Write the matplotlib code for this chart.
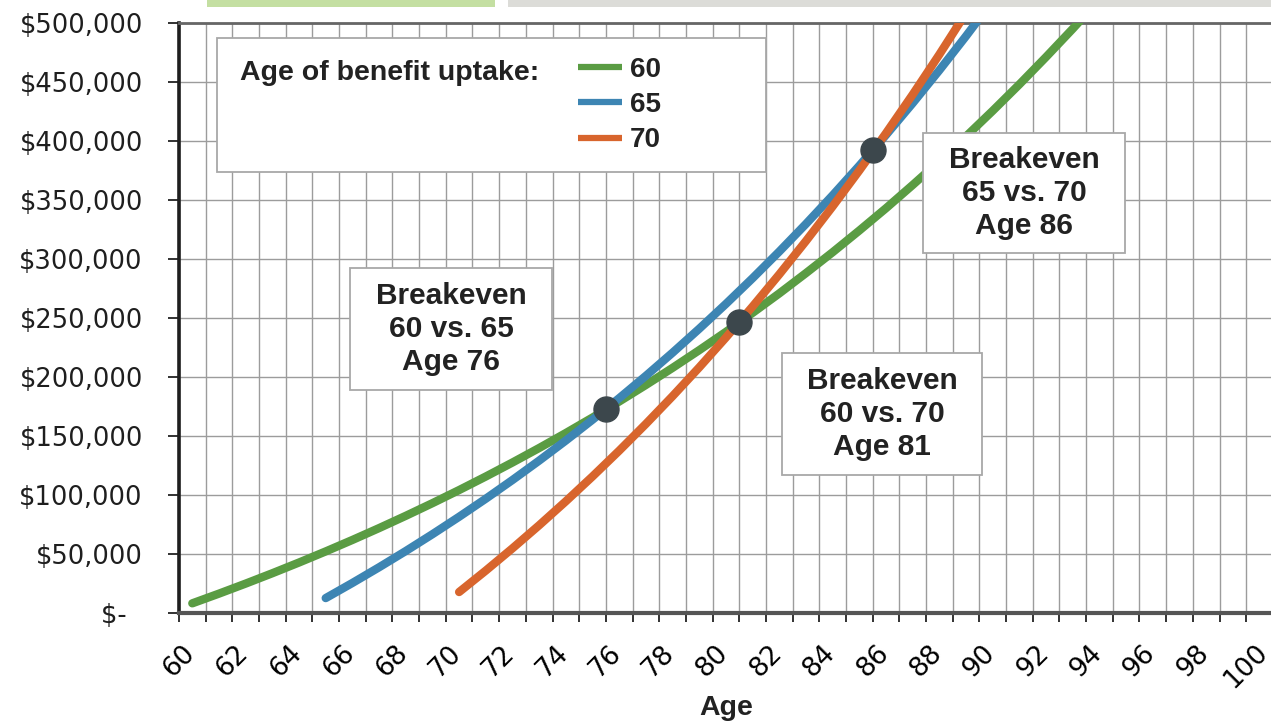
import matplotlib.pyplot as plt
import numpy as np
from matplotlib.lines import Line2D
from matplotlib.patches import Rectangle
from matplotlib.ticker import FuncFormatter, MultipleLocator

# Cumulative benefits received, by age, for each uptake age
ages_60 = np.arange(60, 95)
cum_60 = [7950, 16170, 24670, 33450, 42540, 51940, 61650, 71700, 82090, 92830,
          103940, 115420, 127300, 139570, 152270, 165400, 178970, 193000, 207500, 222500,
          238000, 254100, 270600, 287800, 305500, 323900, 342800, 362500, 382700, 403700,
          425400, 447800, 471000, 494900, 519700]

ages_65 = np.arange(65, 91)
cum_65 = [12380, 25210, 38490, 52250, 66520, 81300, 96610, 112470, 128900, 145920,
          163550, 181820, 200740, 220350, 240670, 261710, 283510, 306100, 329500, 353740,
          378860, 404880, 431830, 459760, 488690, 518670]

ages_70 = np.arange(70, 90)
cum_70 = [17520, 35700, 54560, 74120, 94420, 115490, 137330, 160000, 183520, 207920,
          233240, 259510, 286760, 315030, 344370, 374800, 406380, 439140, 473120, 508380]

breakeven_ages = [76, 81, 86]
breakeven_values = [173000, 246000, 392000]
breakeven_labels = ["Breakeven\n60 vs. 65\nAge 76",
                    "Breakeven\n60 vs. 70\nAge 81",
                    "Breakeven\n65 vs. 70\nAge 86"]

uptake_labels = ["60", "65", "70"]
colors = ["#5a9c43", "#3d85b3", "#d8652d"]

fig = plt.figure(figsize=(12.71, 7.21), dpi=100)
ax = fig.add_axes([0.1408, 0.1502, 0.8607, 0.8183])

# page header bars
fig.add_artist(Rectangle((207 / 1271, 714 / 721), 288 / 1271, 7 / 721,
                         transform=fig.transFigure, color="#c4dfa2", lw=0))
fig.add_artist(Rectangle((508 / 1271, 714 / 721), 763 / 1271, 7 / 721,
                         transform=fig.transFigure, color="#dcdcd8", lw=0))

# values sit at mid-year
for ages, vals, c in zip([ages_60, ages_65, ages_70], [cum_60, cum_65, cum_70], colors):
    ax.plot(ages + 0.5, vals, color=c, lw=6, solid_capstyle="round", zorder=3)

ax.plot(breakeven_ages, breakeven_values, "o", ms=18, color="#3c474c", zorder=4, ls="none")

ax.set_xlim(60, 101)
ax.set_ylim(0, 500000)

ax.xaxis.set_major_locator(MultipleLocator(2))
ax.xaxis.set_minor_locator(MultipleLocator(1))
ax.yaxis.set_major_locator(MultipleLocator(50000))
ax.yaxis.set_major_formatter(FuncFormatter(lambda v, p: "$-\u2007" if v == 0 else f"${v:,.0f}"))

ax.set_axisbelow(True)
ax.grid(which="both", axis="x", color="#9c9c9c", lw=1.0)
ax.grid(which="major", axis="y", color="#9c9c9c", lw=1.0)

ax.tick_params(axis="x", which="both", length=6.5, width=1.3, color="#222222", direction="out")
ax.tick_params(axis="x", which="major", labelsize=19, labelrotation=45, pad=13)
ax.tick_params(axis="y", length=8, width=1.3, color="#222222", labelsize=18.5, pad=18,
               labelcolor="#1e1e1e")
for lab in ax.get_xticklabels() + ax.get_yticklabels():
    lab.set_family("DejaVu Sans")

ax.spines["left"].set_color("#1e1e1e")
ax.spines["left"].set_linewidth(2.6)
ax.spines["bottom"].set_color("#555555")
ax.spines["bottom"].set_linewidth(3)
ax.spines["top"].set_color("#666666")
ax.spines["top"].set_linewidth(2)
ax.spines["right"].set_visible(False)

ax.set_xlabel("Age", family="Liberation Sans", weight="bold", fontsize=20.5, color="#222222")
ax.xaxis.set_label_coords(0.5, -0.14)

# legend panel
ax.add_patch(Rectangle((0.0347, 0.7468), 0.5019, 0.2273, transform=ax.transAxes,
                       facecolor="white", edgecolor="#a8a8a8", lw=1.3, zorder=5))
ax.text(0.0558, 0.9150, "Age of benefit uptake:", transform=ax.transAxes,
        family="Liberation Sans", weight="bold", fontsize=20.5, color="#222222",
        ha="left", va="center", zorder=6)
handles = [Line2D([], [], color=c, lw=4.5, solid_capstyle="butt") for c in colors]
leg = ax.legend(handles, uptake_labels, loc="upper left", bbox_to_anchor=(0.3647, 0.942),
                frameon=False, borderpad=0, borderaxespad=0, handlelength=1.58,
                handletextpad=0.3, labelspacing=0.33,
                prop={"family": "Liberation Sans", "weight": "bold", "size": 20})
leg.set_zorder(6)
for t in leg.get_texts():
    t.set_color("#222222")

# breakeven callouts
boxes = [(0.1563, 0.3775, 0.1847, 0.2067),
         (0.5512, 0.2334, 0.1828, 0.2068),
         (0.6801, 0.6097, 0.1846, 0.2034)]
for (bx, by, bw, bh), txt in zip(boxes, breakeven_labels):
    ax.add_patch(Rectangle((bx, by), bw, bh, transform=ax.transAxes,
                           facecolor="white", edgecolor="#a8a8a8", lw=1.3, zorder=5))
    ax.text(bx + bw / 2, by + bh / 2, txt, transform=ax.transAxes,
            family="Liberation Sans", weight="bold", fontsize=21.5, color="#222222",
            ha="center", va="center", linespacing=1.22, zorder=6)

fig.savefig("out.png", dpi=100)
